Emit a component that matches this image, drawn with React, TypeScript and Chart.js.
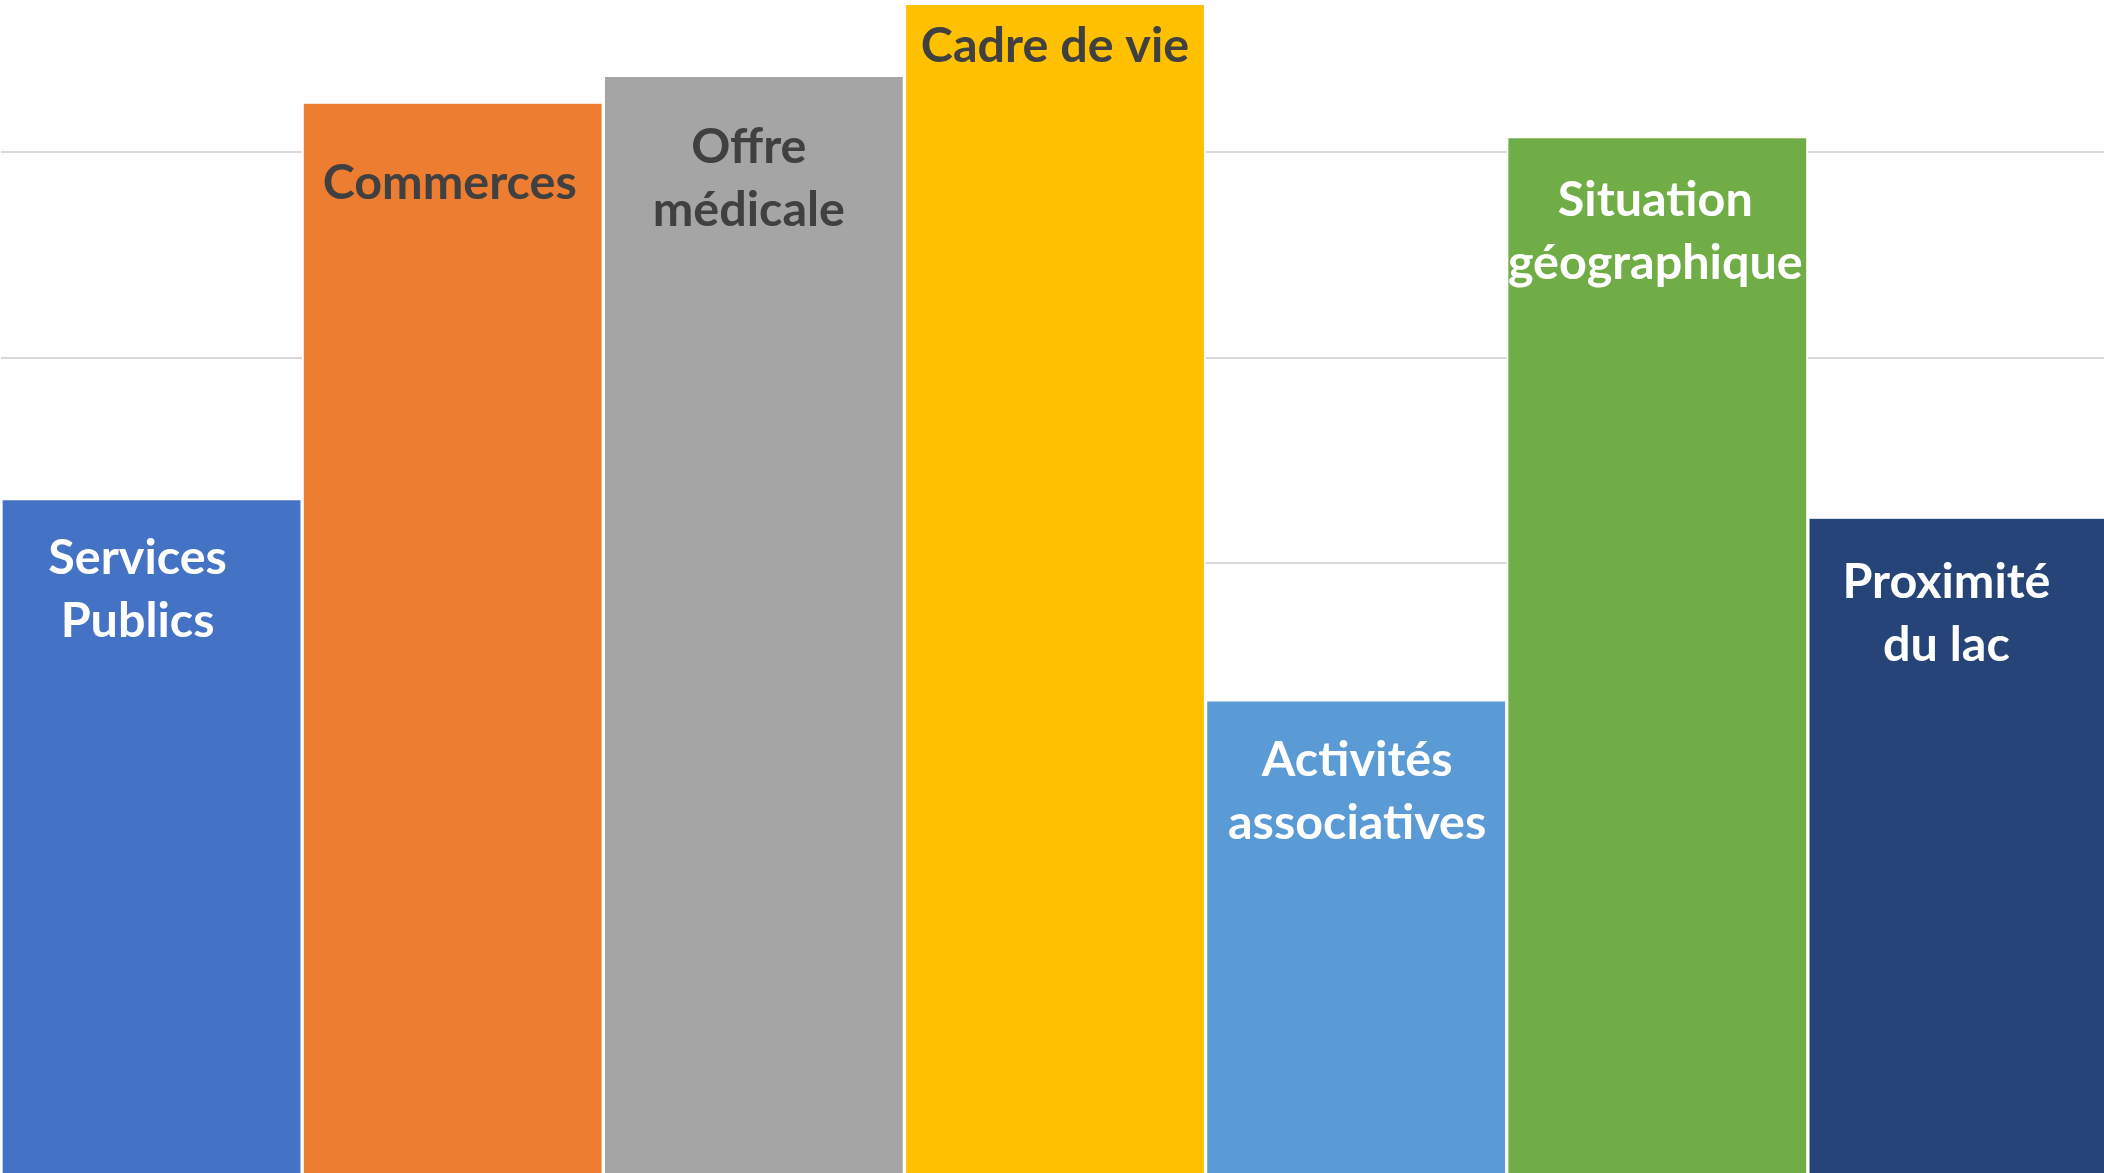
import React, { useEffect, useRef } from "react";
import { Chart, registerables } from "chart.js";

Chart.register(...registerables);

// ---- data ----
const categories: string[][] = [
  ["Services", "Publics"],
  ["Commerces"],
  ["Offre", "médicale"],
  ["Cadre de vie"],
  ["Activités", "associatives"],
  ["Situation", "géographique"],
  ["Proximité", "du lac"],
];
const values: number[] = [33.05, 52.37, 53.67, 57.18, 23.26, 50.68, 32.16];
const barColors: string[] = ["#4472C4", "#ED7D31", "#A5A5A5", "#FFC000", "#5B9BD5", "#70AD47", "#264478"];
const labelColors: string[] = ["#FFFFFF", "#404040", "#404040", "#404040", "#FFFFFF", "#FFFFFF", "#FFFFFF"];

// ---- label styling (offsets from bar top, in px) ----
const labelFirstBaseline: number[] = [74, 95, 86, 57, 75, 78, 79];
const labelDx: number[] = [-14, -3, -5, 0, 1, -2, -12];
const LINE_HEIGHT = 63;
const FONT = "bold 48.5px Lato, 'Open Sans', sans-serif";

const barLabelPlugin = {
  id: "barLabels",
  afterDatasetsDraw(chart: any) {
    const ctx = chart.ctx;
    const meta = chart.getDatasetMeta(0);
    ctx.save();
    ctx.font = FONT;
    ctx.textAlign = "center";
    ctx.textBaseline = "alphabetic";
    meta.data.forEach((bar: any, i: number) => {
      const lines = categories[i];
      ctx.fillStyle = labelColors[i];
      lines.forEach((line, j) => {
        ctx.fillText(line, bar.x + labelDx[i], bar.y + labelFirstBaseline[i] + j * LINE_HEIGHT);
      });
    });
    ctx.restore();
  },
};

export default function App() {
  const canvasRef = useRef<HTMLCanvasElement | null>(null);

  useEffect(() => {
    if (!canvasRef.current) return;
    const chart = new Chart(canvasRef.current, {
      type: "bar",
      data: {
        labels: categories.map((c) => c.join(" ")),
        datasets: [
          {
            data: values,
            backgroundColor: barColors,
            borderColor: "#FFFFFF",
            borderWidth: { left: 2, right: 2, top: 0, bottom: 0 },
            borderSkipped: false,
            barPercentage: 1,
            categoryPercentage: 1,
          },
        ],
      },
      options: {
        animation: false,
        responsive: false,
        devicePixelRatio: 1,
        layout: { padding: 0 },
        plugins: {
          legend: { display: false },
          tooltip: { enabled: false },
        },
        scales: {
          x: { display: false },
          y: {
            display: true,
            min: 0,
            max: 60,
            ticks: { display: false, stepSize: 10 },
            border: { display: false },
            grid: { color: "#D9D9D9", lineWidth: 2, drawTicks: false, tickLength: 0 },
          },
        },
      },
      plugins: [barLabelPlugin],
    });
    return () => chart.destroy();
  }, []);

  return (
    <div style={{ position: "fixed", left: 0, top: 0, width: 2104, height: 1173, overflow: "hidden", background: "#FFFFFF" }}>
      <div style={{ position: "absolute", left: 1, top: -53, width: 2108, height: 1232 }}>
        <canvas ref={canvasRef} width={2108} height={1232} style={{ display: "block" }} />
      </div>
    </div>
  );
}
